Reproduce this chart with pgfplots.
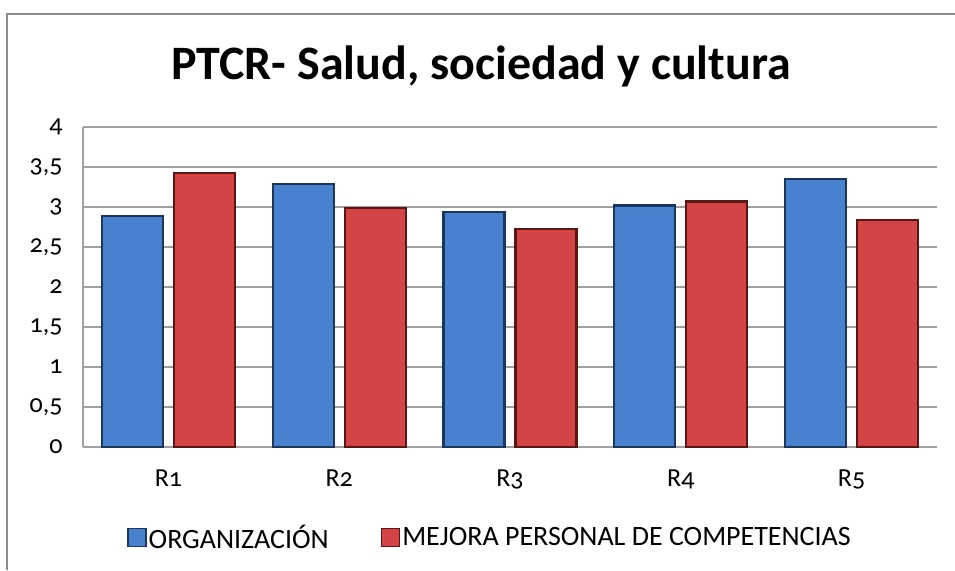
\documentclass[border=0pt]{standalone}
\usepackage{pgfplots}
\pgfplotsset{compat=1.18}
\usepackage{fontspec}
\setmainfont{Carlito}[Numbers=OldStyle]
\newfontfamily\titlefont{Carlito}
\definecolor{bluefill}{HTML}{4882CE}
\definecolor{blueedge}{HTML}{1B365D}
\definecolor{redfill}{HTML}{D34545}
\definecolor{rededge}{HTML}{5A1515}
\definecolor{gridgray}{HTML}{A0A0A0}
\definecolor{framegray}{HTML}{8C8C8C}
\begin{document}
\begin{tikzpicture}[x=1pt,y=1pt]
\path[use as bounding box] (0,0) rectangle (955,570);
\draw[framegray,line width=2pt] (7,0) -- (7,556) -- (955,556);
\node[font=\titlefont\bfseries\fontsize{48}{52}\selectfont, anchor=base] at (481,490) {PTCR- Salud, sociedad y cultura};
\begin{axis}[
  at={(83pt,123pt)}, anchor=south west,
  scale only axis, width=854pt, height=320pt,
  ybar=11pt, bar width=61pt,
  xmin=-0.5, xmax=4.5, ymin=0, ymax=4,
  xtick={0,1,2,3,4}, xticklabels={R1,R2,R3,R4,R5},
  ytick={0,0.5,1,1.5,2,2.5,3,3.5,4},
  /pgf/number format/assume math mode=true,
  /pgf/number format/use comma,
  yticklabel style={font=\fontsize{26}{28}\selectfont, xshift=-17pt},
  xticklabel style={font=\fontsize{26}{28}\selectfont, yshift=-19pt},
  major tick length=0pt,
  ymajorgrids, grid style={gridgray, line width=1.5pt},
  axis x line*=bottom, axis y line*=left,
  axis line style={gridgray, line width=1.5pt, -},
  legend style={at={(0.4766,-0.283)}, anchor=center, draw=none, legend columns=2,
     font=\fontsize{28}{30}\selectfont, /tikz/every even column/.append style={column sep=50pt}},
  legend image code/.code={\draw[#1,line width=1.5pt] (0pt,-9pt) rectangle (18pt,9pt);},
]
\addplot[draw=blueedge, fill=bluefill, line width=2.2pt] coordinates {(0,2.89) (1,3.29) (2,2.94) (3,3.02) (4,3.35)};
\addplot[draw=rededge, fill=redfill, line width=2.2pt] coordinates {(0,3.43) (1,2.99) (2,2.73) (3,3.07) (4,2.84)};
\legend{ORGANIZACIÓN, MEJORA PERSONAL DE COMPETENCIAS}
\end{axis}
\end{tikzpicture}
\end{document}
